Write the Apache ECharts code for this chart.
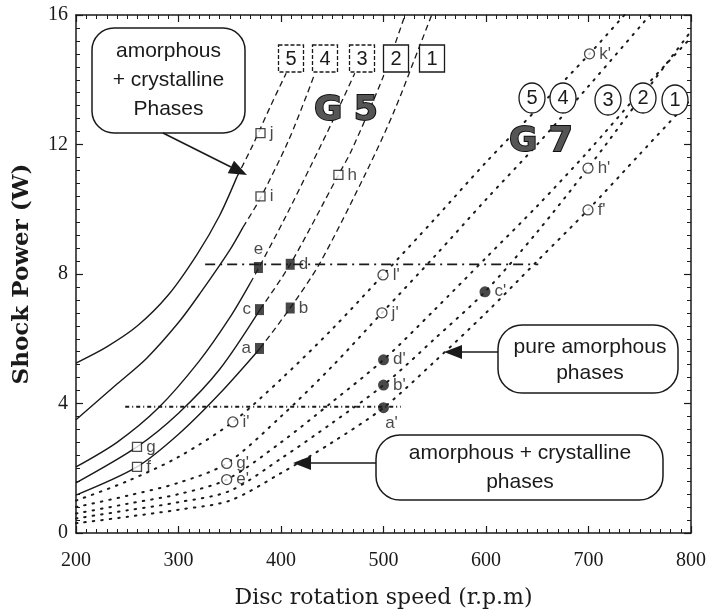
<!DOCTYPE html>
<html>
<head>
<meta charset="utf-8">
<script src="https://cdn.jsdelivr.net/npm/echarts@6/dist/echarts.min.js"></script>
<style>
html,body{margin:0;padding:0;background:#fff;}
#chart{width:716px;height:615px;}
</style>
</head>
<body>
<div id="chart"></div>
<script>
// G5 curves (solid part, then dashed), numbered 5..1
var g5Curve5 = [[200,5.25],[230,5.75],[260,6.4],[290,7.35],[318,8.6],[340,9.8],[357,11.0],[372,11.95],[390,13.2],[405,14.2]];
var g5Curve4 = [[200,3.5],[240,4.6],[269,5.4],[300,6.5],[321,7.4],[350,8.74],[363,9.45],[380,10.35],[407,12.1],[426,13.6],[433,14.2]];
var g5Curve3 = [[200,2.04],[240,2.8],[280,3.85],[320,5.3],[350,6.65],[370,7.72],[378.5,8.2],[405,9.8],[430,11.4],[450,12.7],[472,14.2]];
var g5Curve2 = [[200,1.55],[259.5,2.66],[300,3.7],[340,5.05],[379.5,6.9],[409,8.3],[456,11.06],[469,11.83],[499.5,14.08],[521,16]];
var g5Curve1 = [[200,1.17],[259.5,2.04],[300,3.05],[340,4.3],[379.5,5.7],[409,6.95],[438,8.34],[484,11.2],[510,13.0],[536,15.1],[547,16]];
var g5SolidUntil = [357, 363, 370, 379.5, 379.5];

// G7 curves (dotted), numbered 5..1
var g7Curve5 = [[200,1.0],[250,1.6],[300,2.35],[353,3.43],[400,4.75],[450,6.3],[499.5,7.97],[550,9.7],[600,11.45],[650,13.1],[701,14.8],[735,16]];
var g7Curve4 = [[200,0.8],[250,1.15],[300,1.55],[347,2.15],[400,3.6],[450,5.15],[498.5,6.8],[550,8.55],[600,10.3],[650,12.0],[700,13.8],[760,16]];
var g7Curve3 = [[200,0.6],[250,0.9],[300,1.2],[347,1.65],[400,2.8],[450,4.05],[500,5.35],[550,6.9],[600,8.5],[650,10.1],[700,11.8],[750,13.6],[800,15.3]];
var g7Curve2 = [[200,0.45],[250,0.7],[300,0.95],[350,1.3],[400,2.3],[450,3.4],[500,4.57],[550,6.0],[599,7.45],[650,9.3],[699.5,11.27],[750,13.4],[800,15.5]];
var g7Curve1 = [[200,0.3],[250,0.5],[300,0.72],[350,1.0],[400,1.85],[450,2.8],[500,3.87],[550,5.3],[600,6.8],[650,8.4],[699.5,9.98],[750,11.7],[800,13.4]];

// horizontal limit lines
var limitHigh = [[326,8.3],[651,8.3]];
var limitLow = [[248,3.9],[517,3.9]];

// measured points
var filledSquares = [['a',379,5.7],['b',409,6.95],['c',379,6.9],['d',409,8.3],['e',378,8.2]];
var openSquares = [['f',259.5,2.04],['g',259.5,2.66],['h',456,11.06],['i',380,10.4],['j',380,12.35]];
var filledCircles = [["a'",500,3.87],["b'",500,4.57],["c'",599,7.45],["d'",500,5.35]];
var openCircles = [["e'",347,1.65],["f'",699.5,9.98],["g'",347,2.15],["h'",699.5,11.27],["i'",353,3.43],["j'",498.5,6.8],["k'",701,14.8],["l'",499.5,7.97]];

var curveNumbers = ['5','4','3','2','1'];

var labelPlace = {
  'a': 'left', 'c': 'left', 'e': 'top', "a'": 'bottom'
};

var ink = '#1a1a1a';

function splitCurve(pts, xs) {
  var solid = [], dash = [];
  pts.forEach(function(p) {
    if (p[0] <= xs) solid.push(p);
    if (p[0] >= xs) dash.push(p);
  });
  return [solid, dash];
}

function pointData(list) {
  return list.map(function(p) {
    var pos = labelPlace[p[0]] || 'right';
    var lab = {position: pos};
    if (p[0] === "a'") lab.offset = [8, -2];
    return {name: p[0], value: [p[1], p[2]], label: lab};
  });
}

var series = [];
[g5Curve5, g5Curve4, g5Curve3, g5Curve2, g5Curve1].forEach(function(c, i) {
  var parts = splitCurve(c, g5SolidUntil[i]);
  series.push({type:'line', data: parts[0], smooth: 0.3, symbol:'none', xAxisIndex:0, yAxisIndex:0,
    lineStyle:{color: ink, width:1.4}, z:3});
  series.push({type:'line', data: parts[1], smooth: 0.3, symbol:'none', xAxisIndex:0, yAxisIndex:0,
    lineStyle:{color: ink, width:1.3, type:[6,4]}, z:3});
});
[g7Curve5, g7Curve4, g7Curve3, g7Curve2, g7Curve1].forEach(function(c) {
  series.push({type:'line', data: c, smooth: 0.3, symbol:'none',
    lineStyle:{color: ink, width:2, type:[1.5,7], cap:'round'}, z:2});
});
series.push({type:'line', data: limitHigh, symbol:'none',
  lineStyle:{color: ink, width:1.8, type:[10,5,2,5]}, z:4});
series.push({type:'line', data: limitLow, symbol:'none',
  lineStyle:{color: ink, width:2, type:[4,3,1,3]}, z:4});

var labelStyle = {show:true, formatter:'{b}', fontFamily:'Liberation Sans', fontSize:17, color: ink, distance:4};

series.push({type:'scatter', data: pointData(filledSquares), symbol:'rect', symbolSize:[9,11],
  itemStyle:{color: ink}, label: labelStyle, z:6});
series.push({type:'scatter', data: pointData(openSquares), symbol:'rect', symbolSize:9,
  itemStyle:{color:'#fff', borderColor: ink, borderWidth:1.3}, label: labelStyle, z:6});
series.push({type:'scatter', data: pointData(filledCircles), symbol:'circle', symbolSize:11,
  itemStyle:{color: ink}, label: labelStyle, z:6});
series.push({type:'scatter', data: pointData(openCircles), symbol:'circle', symbolSize:10,
  itemStyle:{color:'#fff', borderColor: ink, borderWidth:1.3}, label: labelStyle, z:6});

function arrow(x1, y1, x2, y2) {
  var dx = x2 - x1, dy = y2 - y1, len = Math.sqrt(dx*dx + dy*dy);
  var ux = dx/len, uy = dy/len, hl = 18, hw = 7;
  var bx = x2 - ux*hl, by = y2 - uy*hl;
  return [
    {type:'line', z:100, shape:{x1:x1, y1:y1, x2:bx, y2:by}, style:{stroke: ink, lineWidth:1.6}},
    {type:'polygon', z:100, shape:{points:[[x2,y2],[bx - uy*hw, by + ux*hw],[bx + uy*hw, by - ux*hw]]}, style:{fill: ink}}
  ];
}

function textEl(x, y, txt, size, lh, extra) {
  var st = {x:x, y:y, text:txt, font: size + 'px "Liberation Sans"', fontSize:size, fontFamily:'Liberation Sans',
    textAlign:'center', align:'center', textVerticalAlign:'middle', verticalAlign:'middle', lineHeight: lh, fill: ink};
  if (extra) for (var k in extra) st[k] = extra[k];
  return {type:'text', z:101, style: st};
}

var graphic = [];
// annotation boxes
graphic.push({type:'rect', z:100, shape:{x:92, y:28, width:153, height:105, r:22}, style:{fill:'#fff', stroke: ink, lineWidth:1.5}});
graphic.push(textEl(168.5, 80, 'amorphous\n+ crystalline\nPhases', 21, 29));
graphic = graphic.concat(arrow(163, 133, 247, 175));

graphic.push({type:'rect', z:100, shape:{x:498, y:325, width:180, height:68, r:24}, style:{fill:'#fff', stroke: ink, lineWidth:1.5}});
graphic.push(textEl(590, 360, 'pure amorphous\nphases', 21, 26));
graphic = graphic.concat(arrow(498, 352, 444, 352));

graphic.push({type:'rect', z:100, shape:{x:376, y:435, width:287, height:65, r:24}, style:{fill:'#fff', stroke: ink, lineWidth:1.5}});
graphic.push(textEl(520, 468, 'amorphous + crystalline\nphases', 21, 29));
graphic = graphic.concat(arrow(376, 463, 293, 463));

// curve numbers, G5 (squares)
var sqX = [291, 325, 362, 396, 432];
curveNumbers.forEach(function(n, i) {
  graphic.push({type:'rect', z:100, shape:{x:sqX[i]-12.5, y:45, width:25, height:27},
    style:{fill:'#fff', stroke: ink, lineWidth:1.3, lineDash: i < 3 ? [4,2] : null}});
  graphic.push(textEl(sqX[i], 59, n, 20, 22));
});
// curve numbers, G7 (circles)
var ciX = [532, 563, 608, 643, 675];
var ciY = [98, 98, 100, 98, 100];
curveNumbers.forEach(function(n, i) {
  graphic.push({type:'ellipse', z:100, shape:{cx:ciX[i], cy:ciY[i], rx:13, ry:15},
    style:{fill:'#fff', stroke: ink, lineWidth:1.3}});
  graphic.push(textEl(ciX[i], ciY[i], n, 20, 22));
});
graphic.push(textEl(346, 111, 'G 5', 34, 36, {font:'bold 34px "DejaVu Sans"', fontWeight:'bold', fontFamily:'DejaVu Sans', fill:'#555', stroke:'#111', lineWidth:2}));
graphic.push(textEl(541, 142, 'G 7', 34, 36, {font:'bold 34px "DejaVu Sans"', fontWeight:'bold', fontFamily:'DejaVu Sans', fill:'#555', stroke:'#111', lineWidth:2}));

function axisBase(extra) {
  var a = {
    type:'value', splitLine:{show:false},
    axisLine:{show:true, onZero:false, lineStyle:{color: ink, width:1.5}},
    axisTick:{show:true, inside:true, length:7, lineStyle:{color: ink, width:1.2}},
    minorTick:{show:true, inside:true, splitNumber:10, length:4, lineStyle:{color: ink, width:1}}
  };
  for (var k in extra) a[k] = extra[k];
  return a;
}

var option = {
  backgroundColor:'#fff',
  animation:false,
  grid:{left:76, right:25, top:15, bottom:82},
  xAxis:[
    axisBase({min:200, max:800, interval:100, position:'bottom',
      axisLabel:{fontFamily:'Liberation Serif', fontSize:20, color: ink, margin:18},
      name:'Disc rotation speed (r.p.m)', nameLocation:'middle', nameGap:54,
      nameTextStyle:{fontFamily:'DejaVu Serif', fontSize:22, color: ink}}),
    axisBase({min:200, max:800, interval:100, position:'top', axisLabel:{show:false}})
  ],
  yAxis:[
    axisBase({min:0, max:16, interval:4, position:'left',
      axisLabel:{fontFamily:'Liberation Serif', fontSize:20, color: ink, margin:8},
      name:'Shock Power (W)', nameLocation:'middle', nameGap:42,
      nameTextStyle:{fontFamily:'DejaVu Serif', fontSize:23, fontWeight:'bold', color: ink}}),
    axisBase({min:0, max:16, interval:4, position:'right', axisLabel:{show:false}})
  ],
  series: series,
  graphic: graphic
};

var chart = echarts.init(document.getElementById('chart'));
chart.setOption(option);
</script>
</body>
</html>
